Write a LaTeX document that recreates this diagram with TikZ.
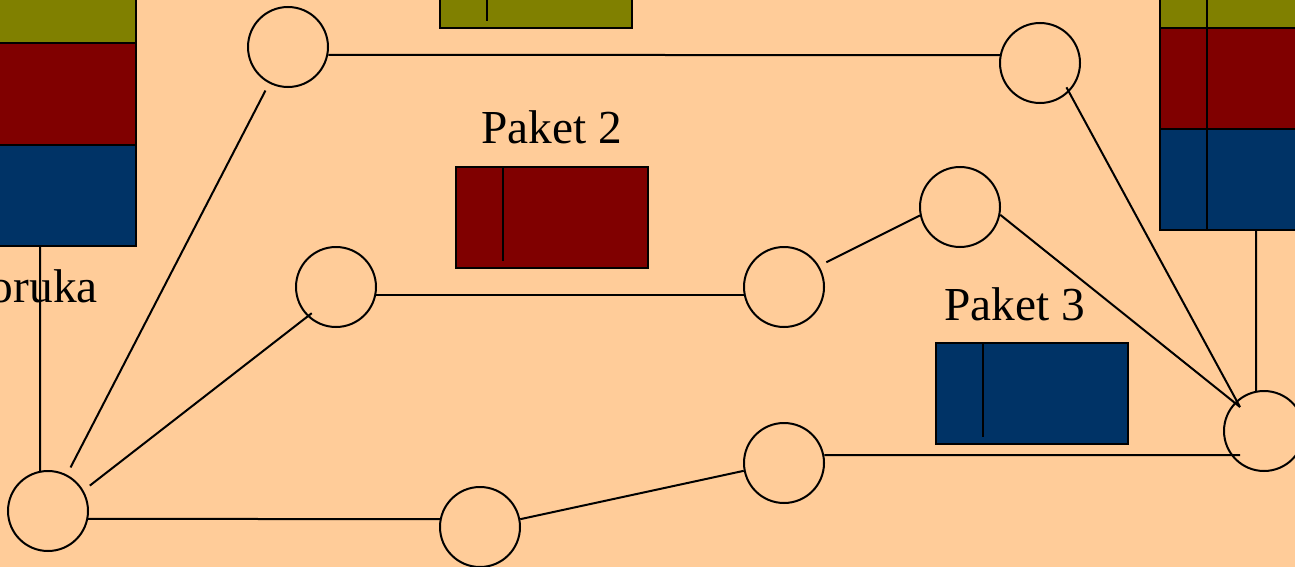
\documentclass[tikz,border=0pt]{standalone}
\usepackage{fontspec}
\setmainfont{Liberation Serif}
\usetikzlibrary{calc}
\definecolor{peach}{RGB}{255,204,153}
\definecolor{pktolive}{RGB}{128,128,0}
\definecolor{pktred}{RGB}{128,0,0}
\definecolor{pktblue}{RGB}{0,51,102}
\tikzset{
  router/.style={draw, circle, line width=1.5, minimum size=60pt, inner sep=0pt},
  seg/.style={draw, line width=1.5, minimum width=144pt, minimum height=75.75pt, inner sep=0pt},
  link/.style={line width=1.5},
  lbl/.style={inner sep=0pt, font=\fontsize{35.5}{40}\selectfont},
}
\begin{document}
\begin{tikzpicture}[x=0.75pt,y=0.75pt,yscale=-1,xscale=1]
\useasboundingbox (0,0) rectangle (1295,567);
\fill[peach] (0,0) rectangle (1295,567);

%Shape: Rectangle stack (left)
\node[seg, fill=pktolive] (Lolive) at (40,-7.5) {};
\node[seg, fill=pktred] (Lred) at (40,94) {};
\node[seg, fill=pktblue] (Lblue) at (40,195.5) {};
%Shape: Rectangle stack (right)
\node[seg, fill=pktolive] (Rolive) at (1256,-22.5) {};
\node[seg, fill=pktred] (Rred) at (1256,78.5) {};
\node[seg, fill=pktblue] (Rblue) at (1256,179.5) {};
\draw[link] ($(Rolive.north west)+(48,0)$) -- ($(Rblue.south west)+(48,0)$);

%Shape: Rectangle packets
\node[seg, fill=pktolive] (pkt1) at (536,-22.5) {};
\node[seg, fill=pktred] (pkt2) at (552,217.5) {};
\node[seg, fill=pktblue] (pkt3) at (1032,393.5) {};
\draw[link] ($(pkt1.north west)+(48,0)$) -- ++(0,95);
\draw[link] ($(pkt2.north west)+(48,0)$) -- ++(0,95);
\draw[link] ($(pkt3.north west)+(48,0)$) -- ++(0,95);

%Shape: Circle
\node[router] (rA) at (288,47) {};
\node[router] (rB) at (1040,63) {};
\node[router] (rC) at (336,287) {};
\node[router] (rD) at (784,287) {};
\node[router] (rE) at (960,207) {};
\node[router] (rF) at (48,511) {};
\node[router] (rG) at (480,527) {};
\node[router] (rH) at (784,463) {};
\node[router] (rI) at (1264,431) {};
\coordinate (rIhub) at ($(rI)+(-24,-24)$);
\coordinate (rIlow) at ($(rI)+(-24,24)$);

%Straight Lines
\draw[link] (rA.-11) -- (rB.169);
\draw[link, shorten <=6pt, shorten >=6pt] (rA) -- (rF);
\draw[link, shorten <=-4pt, shorten >=6pt] (rC.226) -- (rF.30);
\draw[link] (rC.-11) -- (rD.191);
\draw[link, shorten <=6pt] (rD.31) -- (rE.192);
\draw[link] (rE.-11) -- (rIhub);
\draw[link, shorten <=-4pt] (rB.-45) -- (rIhub);
\draw[link] (rF.-11) -- (rG.169);
\draw[link] (rG.11) -- (rH.191);
\draw[link] (rH.11) -- (rIlow);
\draw[link] (Lblue.south) -- (rF.101);
\draw[link] (Rblue.south) -- (rI.101);

% Text Node
\node[lbl, anchor=base] (lblPkt2) at (551.5,143.5) {Paket 2};
% Text Node
\node[lbl, anchor=base] (lblPkt3) at (1014.5,320) {Paket 3};
% Text Node
\node[lbl, anchor=base east] (lblMsg) at (98,302) {oruka};

\end{tikzpicture}
\end{document}
